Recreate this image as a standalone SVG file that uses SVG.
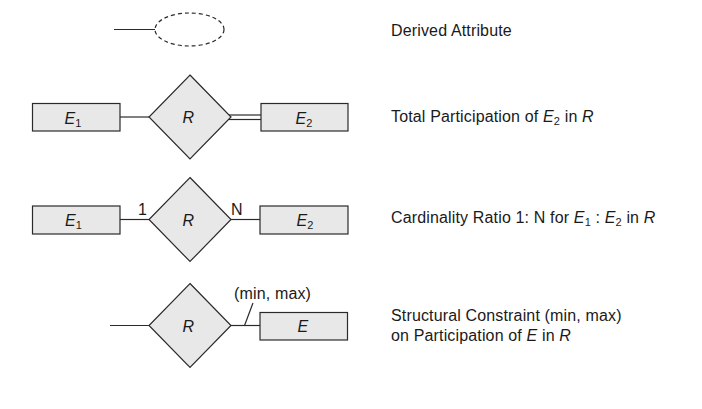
<svg xmlns="http://www.w3.org/2000/svg" width="702" height="409" viewBox="0 0 702 409">
<style>
.shape{fill:#e8e8e8;stroke:#2a2a2a;stroke-width:1.2}
.line{fill:none;stroke:#2a2a2a;stroke-width:1.2}
.dash{fill:none;stroke:#2a2a2a;stroke-width:1.2;stroke-dasharray:4 3}
text{font-family:"Liberation Sans",Arial,sans-serif;font-size:16px;fill:#1a1a1a;letter-spacing:0.15px}
.it{font-style:italic}
.sub{font-size:11px}
</style>
<rect width="702" height="409" fill="#fff"/>
<g id="connectors">
  <line class="line" x1="114" y1="29.5" x2="155" y2="29.5"/>
  <line class="line" x1="120" y1="117" x2="149" y2="117"/>
  <line class="line" x1="229" y1="115" x2="261" y2="115"/>
  <line class="line" x1="229" y1="119.5" x2="261" y2="119.5"/>
  <line class="line" x1="120" y1="219.5" x2="149" y2="219.5"/>
  <line class="line" x1="231" y1="219.5" x2="260" y2="219.5"/>
  <line class="line" x1="110" y1="325.5" x2="149" y2="325.5"/>
  <line class="line" x1="231" y1="325.5" x2="260" y2="325.5"/>
  <line class="line" x1="244.5" y1="325.5" x2="253" y2="303"/>
  <text x="138" y="214.5">1</text>
  <text x="231" y="214.5">N</text>
  <text x="234" y="298.5">(min, max)</text>
</g>
<g id="derived-attribute">
  <ellipse class="dash" cx="189.5" cy="29.5" rx="34.5" ry="16.5"/>
</g>
<g id="row2-E1">
  <rect class="shape" x="32.5" y="103.5" width="87.5" height="27.5"/>
  <text x="64.5" y="123.5"><tspan class="it">E</tspan><tspan class="sub" dy="3">1</tspan></text>
</g>
<g id="row2-R">
  <polygon class="shape" points="190,75 231,117 190,159 149,117"/>
  <text x="182.5" y="123" class="it">R</text>
</g>
<g id="row2-E2">
  <rect class="shape" x="261" y="103.5" width="87" height="27.5"/>
  <text x="295.5" y="123.5"><tspan class="it">E</tspan><tspan class="sub" dy="3">2</tspan></text>
</g>
<g id="row3-E1">
  <rect class="shape" x="32.5" y="206" width="87.5" height="28"/>
  <text x="65" y="226"><tspan class="it">E</tspan><tspan class="sub" dy="3">1</tspan></text>
</g>
<g id="row3-R">
  <polygon class="shape" points="190,177.5 231,219.5 190,261.5 149,219.5"/>
  <text x="182.5" y="225.5" class="it">R</text>
</g>
<g id="row3-E2">
  <rect class="shape" x="260" y="206" width="88" height="28"/>
  <text x="296.5" y="226"><tspan class="it">E</tspan><tspan class="sub" dy="3">2</tspan></text>
</g>
<g id="row4-R">
  <polygon class="shape" points="190,283.5 231,325.5 190,367.5 149,325.5"/>
  <text x="182.5" y="331.5" class="it">R</text>
</g>
<g id="row4-E">
  <rect class="shape" x="260" y="312.5" width="87.5" height="27.5"/>
  <text x="297.5" y="332" class="it">E</text>
</g>
<g id="labels">
  <text x="391" y="35.5">Derived Attribute</text>
  <text x="391" y="121.5">Total Participation of <tspan class="it">E</tspan><tspan class="sub" dy="3">2</tspan><tspan dy="-3"> in </tspan><tspan class="it">R</tspan></text>
  <text x="391" y="222.5">Cardinality Ratio 1: N for <tspan class="it">E</tspan><tspan class="sub" dy="3">1</tspan><tspan dy="-3"> : </tspan><tspan class="it">E</tspan><tspan class="sub" dy="3">2</tspan><tspan dy="-3"> in </tspan><tspan class="it">R</tspan></text>
  <text x="391" y="321">Structural Constraint (min, max)</text>
  <text x="391" y="340.5">on Participation of <tspan class="it">E</tspan> in <tspan class="it">R</tspan></text>
</g>
</svg>
